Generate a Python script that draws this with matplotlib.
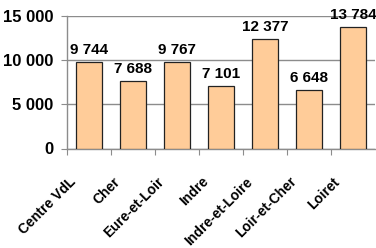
import matplotlib
matplotlib.use("Agg")
import matplotlib.pyplot as plt
import matplotlib.transforms as mtransforms

categories = ["Centre VdL", "Cher", "Eure-et-Loir", "Indre", "Indre-et-Loire", "Loir-et-Cher", "Loiret"]
values = [9744, 7688, 9767, 7101, 12377, 6648, 13784]
yticks = [0, 5000, 10000, 15000]
ytick_labels = ["0", "5 000", "10 000", "15 000"]
value_labels = ["9 744", "7 688", "9 767", "7 101", "12 377", "6 648", "13 784"]

plt.rcParams['font.family'] = ['Liberation Sans', 'DejaVu Sans']
plt.rcParams['font.weight'] = 'bold'

W, H = 376, 248
fig = plt.figure(figsize=(W/100, H/100), dpi=100)
ax = fig.add_axes([67/W, 1-148.5/H, (375-67)/W, (148.5-16)/H])

x = list(range(len(categories)))
ax.bar(x, values, width=0.6, color="#FFCC99", edgecolor="#222222", linewidth=0.9, zorder=3)
ax.set_xlim(-0.5, len(categories)-0.5)
ax.set_ylim(0, 15000)
ax.set_yticks(yticks)
ax.set_yticklabels(ytick_labels, fontsize=12, fontweight='bold')
ax.yaxis.grid(True, color="#8c8c8c", linewidth=1.0, zorder=0)
ax.set_axisbelow(True)

for s in ["top", "right"]:
    ax.spines[s].set_visible(False)
for s in ["left", "bottom"]:
    ax.spines[s].set_color("#8c8c8c")
    ax.spines[s].set_linewidth(1.0)
ax.tick_params(axis='y', length=4, color="#8c8c8c", pad=6)
ax.tick_params(axis='x', length=4, color="#8c8c8c")
ax.set_xticks([i + 0.5 for i in range(len(categories)-1)] + [-0.5])
ax.set_xticklabels([])

offset = mtransforms.ScaledTranslation(-15/100, -31/100, fig.dpi_scale_trans)
for i, c in enumerate(categories):
    ax.text(i, 0, c, rotation=45, rotation_mode='anchor', ha='right', va='center',
            fontsize=10, fontweight='bold', transform=ax.transData + offset, clip_on=False)

for i, (v, lab) in enumerate(zip(values, value_labels)):
    ax.annotate(lab, (i, v), xytext=(0, 5), textcoords='offset pixels', ha='center', va='bottom',
                fontsize=11, fontweight='bold', annotation_clip=False)

fig.savefig("out.png", dpi=100)
